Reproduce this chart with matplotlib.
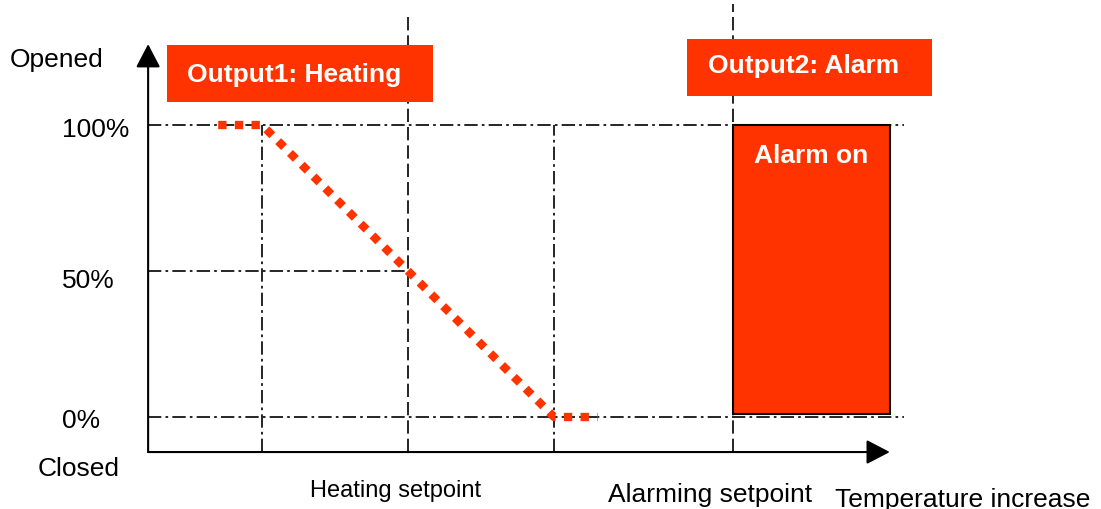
import matplotlib
matplotlib.use("Agg")
import matplotlib.pyplot as plt
import matplotlib.transforms as mtransforms
from matplotlib.patches import Rectangle

# heating output (valve opening vs temperature)
heat_temp = [17.4, 18.0, 22.0, 22.6]
heat_open = [100, 100, 0, 0]

heating_setpoint = 20.0
band_low, band_high = 18.0, 22.0
alarm_setpoint = 24.45
alarm_end = 26.6
alarm_level = 100

levels = [0, 50, 100]
level_labels = ["0%", "50%", "100%"]

RED = "#FF3300"
W, H = 1101, 510

fig = plt.figure(figsize=(W / 100, H / 100), dpi=100)
ax = fig.add_axes([0, 0, 1, 1])
ax.set_xlim(14.411, 29.493)
ax.set_ylim(-31.507, 143.15)
ax.axis("off")

# pixel transform (origin top-left) for labels and boxes
pix = mtransforms.Affine2D().scale(1 / W, -1 / H).translate(0, 1) + fig.transFigure

x0, y0 = 16.44, -12.0   # axis origin
x_end, y_top = 26.6, 127.7

dashdot = dict(color="black", lw=1.2, dashes=(8, 2.5, 1.6, 2.5))
dashed = dict(color="black", lw=1.2, dashes=(8, 3))

# horizontal guide lines
ax.plot([x0, 26.8], [levels[2]] * 2, **dashdot)
ax.plot([x0, 26.8], [levels[0]] * 2, **dashdot)
ax.plot([x0, heating_setpoint], [levels[1]] * 2, **dashdot)

# vertical guide lines
for t in (band_low, band_high):
    ax.plot([t, t], [y0, 100], **dashdot)
ax.plot([heating_setpoint] * 2, [y0, 138], **dashed)
ax.plot([alarm_setpoint] * 2, [y0, 141.4], **dashed)

# axes with arrows
arrow = dict(arrowstyle="-|>,head_length=1.44,head_width=0.75", mutation_scale=10,
             lw=1.5, color="black", shrinkA=0, shrinkB=0)
ax.annotate("", xy=(x0, y_top), xytext=(x0, y0), arrowprops=arrow)
ax.annotate("", xy=(x_end, y0), xytext=(x0, y0), arrowprops=arrow)

# alarm output
ax.bar(alarm_setpoint, alarm_level - 1, width=alarm_end - alarm_setpoint, bottom=1,
       align="edge", color=RED, edgecolor="black", linewidth=1.5, zorder=3)

# heating output
ax.plot(heat_temp, heat_open, color=RED, lw=6, dashes=(1.0, 1.0),
        dash_capstyle="butt", zorder=4)

# title boxes
for (bx, by, bw, bh) in [(167, 46, 266, 57), (687, 40, 245, 57)]:
    fig.patches.append(Rectangle((bx, by + bh), bw, -bh, transform=pix,
                                 facecolor=RED, edgecolor="none"))

bold = dict(color="white", fontsize=19, fontweight="bold", family="Liberation Sans",
            transform=pix, ha="center", va="baseline")
fig.text(294.5, 82, "Output1: Heating", **bold)
fig.text(803.5, 73, "Output2: Alarm", **bold)
fig.text(811.5, 163, "Alarm on", **bold)

reg = dict(color="black", fontsize=19, family="Liberation Sans",
           transform=pix, ha="left", va="baseline")
fig.text(10, 67, "Opened", **reg)
fig.text(38, 476, "Closed", **reg)
for lab, yb in zip(level_labels, [428, 288, 137]):
    fig.text(62, yb, lab, **reg)
fig.text(310, 497, "Heating setpoint", **{**reg, "fontsize": 17})
fig.text(608, 502, "Alarming setpoint", **reg)
fig.text(835, 507, "Temperature increase", **reg)

fig.savefig("out.png", dpi=100)
